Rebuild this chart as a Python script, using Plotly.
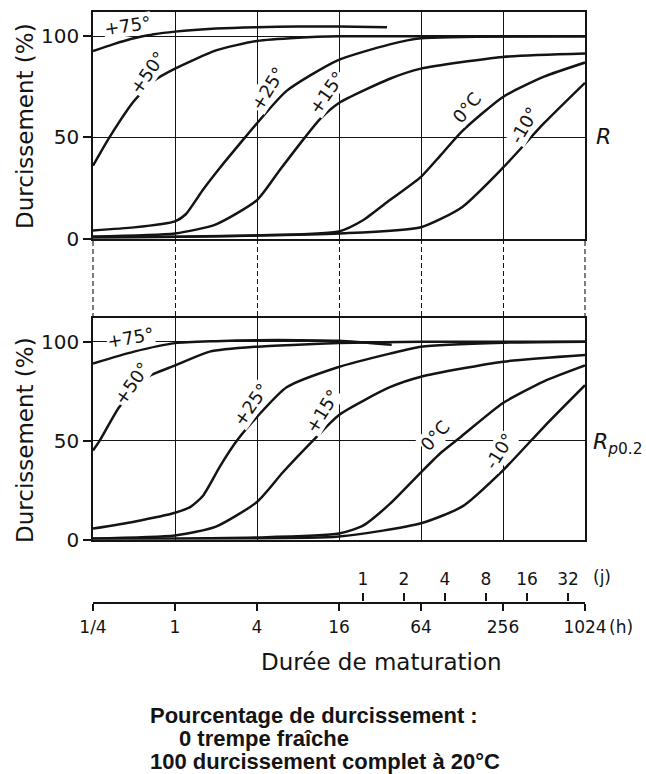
import math
import plotly.graph_objects as go

# ---------------- data ----------------
HOURS_TICKS = [0.25, 1, 4, 16, 64, 256, 1024]
HOURS_TEXT = ["1/4", "1", "4", "16", "64", "256", "1024"]
DAYS_TICKS = [1, 2, 4, 8, 16, 32]
DAYS_TEXT = ["1", "2", "4", "8", "16", "32"]
Y_TICKS = [0, 50, 100]
Y_TEXT = ["0", "50", "100"]

# Panel R (top)
R_h_75 = [0.25, 0.35, 0.5, 0.7, 1, 2, 4, 8, 16, 36]
R_y_75 = [92.7, 96, 99, 101, 102.3, 103.8, 104.5, 104.8, 104.8, 104.5]
R_h_50 = [0.25, 0.33, 0.5, 0.7, 1, 2, 4, 8, 16, 64, 1024]
R_y_50 = [36, 50, 68, 78, 84, 93, 97.7, 99.3, 100, 100, 100]
R_h_25 = [0.25, 0.5, 1, 1.2, 1.6, 2.14, 3.27, 4, 6.6, 15.5, 37.8, 64, 1024]
R_y_25 = [4, 5.5, 8.5, 12, 24, 35, 50, 57, 73, 88, 96, 99, 100]
R_h_15 = [0.25, 1, 2, 4, 5.9, 9, 11.6, 16, 37.8, 64, 256, 1024]
R_y_15 = [1, 2.5, 7, 19, 34, 50, 59, 67, 79, 84, 89.8, 91.5]
R_h_0 = [0.25, 4, 16, 24, 37.8, 64, 90, 128, 256, 512, 1024]
R_y_0 = [0.5, 1.5, 3.5, 9, 19, 30.5, 41.5, 53, 70, 80, 87]
R_h_m10 = [0.25, 16, 64, 128, 256, 512, 1024]
R_y_m10 = [0.3, 2.5, 5.6, 15.5, 35, 57, 77]

# Panel Rp0.2 (bottom)
P_h_75 = [0.25, 0.5, 1, 2, 4, 8, 16, 39]
P_y_75 = [89, 95, 99.3, 100.3, 100.8, 100.8, 100.5, 98.5]
P_h_50 = [0.25, 0.28, 0.39, 0.49, 0.62, 1, 1.8, 4, 8, 16, 64, 1024]
P_y_50 = [45, 50, 67, 74, 82, 88, 95, 97.5, 98.5, 99.3, 100, 100]
P_h_25 = [0.25, 0.5, 1, 1.3, 1.6, 2.14, 2.85, 4, 6.6, 15.5, 37.8, 64, 256, 1024]
P_y_25 = [5.5, 9, 13.5, 16.5, 22, 37, 50, 62, 77, 87, 94, 97.5, 99.5, 100]
P_h_15 = [0.25, 1, 2, 4, 6.2, 10.3, 16, 37.8, 64, 256, 1024]
P_y_15 = [0.5, 2, 6.5, 19, 34, 50, 63, 77, 82.3, 89.9, 93.3]
P_h_0 = [0.25, 4, 16, 24, 37.8, 64, 90, 126, 256, 512, 1024]
P_y_0 = [0.3, 1, 3, 7, 18, 34, 44, 52, 69, 80, 88]
P_h_m10 = [0.25, 16, 64, 128, 256, 512, 1024]
P_y_m10 = [0.2, 1.5, 8.2, 16.6, 35, 57, 78]

CURVE_LABELS = ["+75°", "+50°", "+25°", "+15°", "0°C", "-10°"]
TOP_CURVES = [(R_h_75, R_y_75), (R_h_50, R_y_50), (R_h_25, R_y_25),
              (R_h_15, R_y_15), (R_h_0, R_y_0), (R_h_m10, R_y_m10)]
BOT_CURVES = [(P_h_75, P_y_75), (P_h_50, P_y_50), (P_h_25, P_y_25),
              (P_h_15, P_y_15), (P_h_0, P_y_0), (P_h_m10, P_y_m10)]

# label anchor (hours, %, angle)
TOP_LABEL_POS = [(0.45, 105.5, -8), (0.63, 82.2, -55), (4.8, 74.3, -58),
                 (13, 72.3, -55), (139, 64.9, -50), (364, 56, -60)]
BOT_LABEL_POS = [(0.475, 102.3, -10), (0.48, 79.1, -55), (3.6, 68.5, -55),
                 (12.2, 65, -58), (81, 52.8, -48), (239, 44.7, -58)]

# ---------------- layout helpers ----------------
W, H = 646, 774
ML, MR = 93, 61
INK = "#141414"
FONT = "DejaVu Sans"


def py(p):
    return 1 - p / H


def pxp(p):
    return (p - ML) / (W - ML - MR)


XRANGE = [math.log10(0.25), math.log10(1024)]

fig = go.Figure()

line_style = dict(color=INK, width=2.5, shape="spline", smoothing=0.6)
for (h, v) in TOP_CURVES:
    fig.add_trace(go.Scatter(x=h, y=v, mode="lines", line=line_style,
                             xaxis="x", yaxis="y", hoverinfo="skip", showlegend=False))
for (h, v) in BOT_CURVES:
    fig.add_trace(go.Scatter(x=h, y=v, mode="lines", line=line_style,
                             xaxis="x2", yaxis="y2", hoverinfo="skip", showlegend=False))

# dummy extents so helper axes are drawn
for xa, ya in [("x3", "y3"), ("x4", "y4"), ("x5", "y4")]:
    fig.add_trace(go.Scatter(x=[0.25, 1024], y=[0, 1], mode="markers",
                             marker=dict(opacity=0), xaxis=xa, yaxis=ya,
                             hoverinfo="skip", showlegend=False))

xpanel = dict(type="log", range=XRANGE, domain=[0, 1], tickvals=HOURS_TICKS,
              showticklabels=False, ticks="", showgrid=True, gridcolor=INK,
              gridwidth=1.2, showline=True, linecolor=INK, linewidth=1.6,
              mirror=True, zeroline=False, fixedrange=True)
ypanel = dict(range=[0, 112], tickvals=Y_TICKS, ticktext=Y_TEXT, ticks="outside",
              ticklen=8, tickwidth=1.6, tickcolor=INK, showgrid=True,
              gridcolor=INK, gridwidth=1.2, showline=True, linecolor=INK,
              linewidth=1.6, mirror=True, zeroline=False,
              tickfont=dict(family=FONT, size=20, color=INK), fixedrange=True)

fig.update_layout(
    width=W, height=H,
    margin=dict(l=ML, r=MR, t=0, b=0, autoexpand=False),
    paper_bgcolor="white", plot_bgcolor="white",
    showlegend=False,
    xaxis=dict(xpanel, anchor="y"),
    yaxis=dict(ypanel, domain=[py(238.5), py(12)], anchor="x"),
    xaxis2=dict(xpanel, anchor="y2"),
    yaxis2=dict(ypanel, domain=[py(539.5), py(318)], anchor="x2"),
    xaxis3=dict(type="log", range=XRANGE, domain=[0, 1], anchor="y3",
                tickvals=HOURS_TICKS, showticklabels=False, ticks="",
                showgrid=True, gridcolor=INK, gridwidth=1.1, griddash="5px,3px",
                showline=False, zeroline=False, fixedrange=True),
    yaxis3=dict(domain=[py(318), py(238.5)], anchor="x3", range=[0, 1],
                visible=False, showgrid=False, fixedrange=True),
    xaxis4=dict(type="log", range=XRANGE, domain=[0, 1], anchor="y4", side="bottom",
                tickvals=HOURS_TICKS, ticktext=HOURS_TEXT, ticks="outside",
                ticklen=7, tickwidth=2, tickcolor=INK, showline=True,
                linecolor=INK, linewidth=2, showgrid=False, zeroline=False,
                ticklabelstandoff=2,
                tickfont=dict(family=FONT, size=17, color=INK), fixedrange=True),
    xaxis5=dict(type="log", range=XRANGE, overlaying="x4", anchor="y4", side="top",
                tickvals=[d * 24 for d in DAYS_TICKS], ticktext=DAYS_TEXT,
                ticks="outside", ticklen=8, tickwidth=2, tickcolor=INK,
                showline=False, showgrid=False, zeroline=False,
                ticklabelstandoff=1,
                tickfont=dict(family=FONT, size=17, color=INK), fixedrange=True),
    yaxis4=dict(domain=[py(602), py(601.6)], anchor="x4", range=[0, 1],
                visible=False, showgrid=False, fixedrange=True),
)

# dashed connectors at the outer edges (1/4 h and 1024 h)
shapes = []
for xe in (0, 1):
    shapes.append(dict(type="line", xref="paper", yref="paper", x0=xe, x1=xe,
                       y0=py(318), y1=py(238.5),
                       line=dict(color=INK, width=1.1, dash="5px,3px")))
fig.update_layout(shapes=shapes)

ann = []
for (txt, (h, v, ang)) in zip(CURVE_LABELS, TOP_LABEL_POS):
    ann.append(dict(text=txt, x=math.log10(h), y=v, xref="x", yref="y",
                    textangle=ang, showarrow=False, bgcolor="white", borderpad=0,
                    xanchor="center", yanchor="middle",
                    font=dict(family=FONT, size=18, color=INK)))
for (txt, (h, v, ang)) in zip(CURVE_LABELS, BOT_LABEL_POS):
    ann.append(dict(text=txt, x=math.log10(h), y=v, xref="x2", yref="y2",
                    textangle=ang, showarrow=False, bgcolor="white", borderpad=0,
                    xanchor="center", yanchor="middle",
                    font=dict(family=FONT, size=18, color=INK)))


def ptext(text, xp, yp, font, xanchor="center", angle=0):
    return dict(text=text, x=pxp(xp), y=py(yp), xref="paper", yref="paper",
                xanchor=xanchor, yanchor="middle", textangle=angle,
                showarrow=False, font=font)


txt_font = dict(family=FONT, size=23, color=INK)
small_font = dict(family=FONT, size=17, color=INK)
ann += [
    ptext("Durcissement (%)", 25, 126, txt_font, angle=-90),
    ptext("Durcissement (%)", 25, 440, txt_font, angle=-90),
    ptext("<i>R</i>", 603, 137, dict(family=FONT, size=22, color=INK)),
    ptext("<i>R<sub>p</sub></i><sub>0.2</sub>", 591, 443,
          dict(family=FONT, size=22, color=INK), xanchor="left"),
    ptext("(j)", 602, 577, small_font),
    ptext("(h)", 621, 627, small_font),
    ptext("Durée de maturation", 381, 662, txt_font),
]
cap_font = dict(family="Liberation Sans", size=22, color=INK, weight="bold")
ann += [
    ptext("Pourcentage de durcissement :", 148, 715, cap_font, xanchor="left"),
    ptext("0 trempe fraîche", 177, 738, cap_font, xanchor="left"),
    ptext("100 durcissement complet à 20°C", 148, 761, cap_font, xanchor="left"),
]
fig.update_layout(annotations=ann)

fig.write_html("out.html")
